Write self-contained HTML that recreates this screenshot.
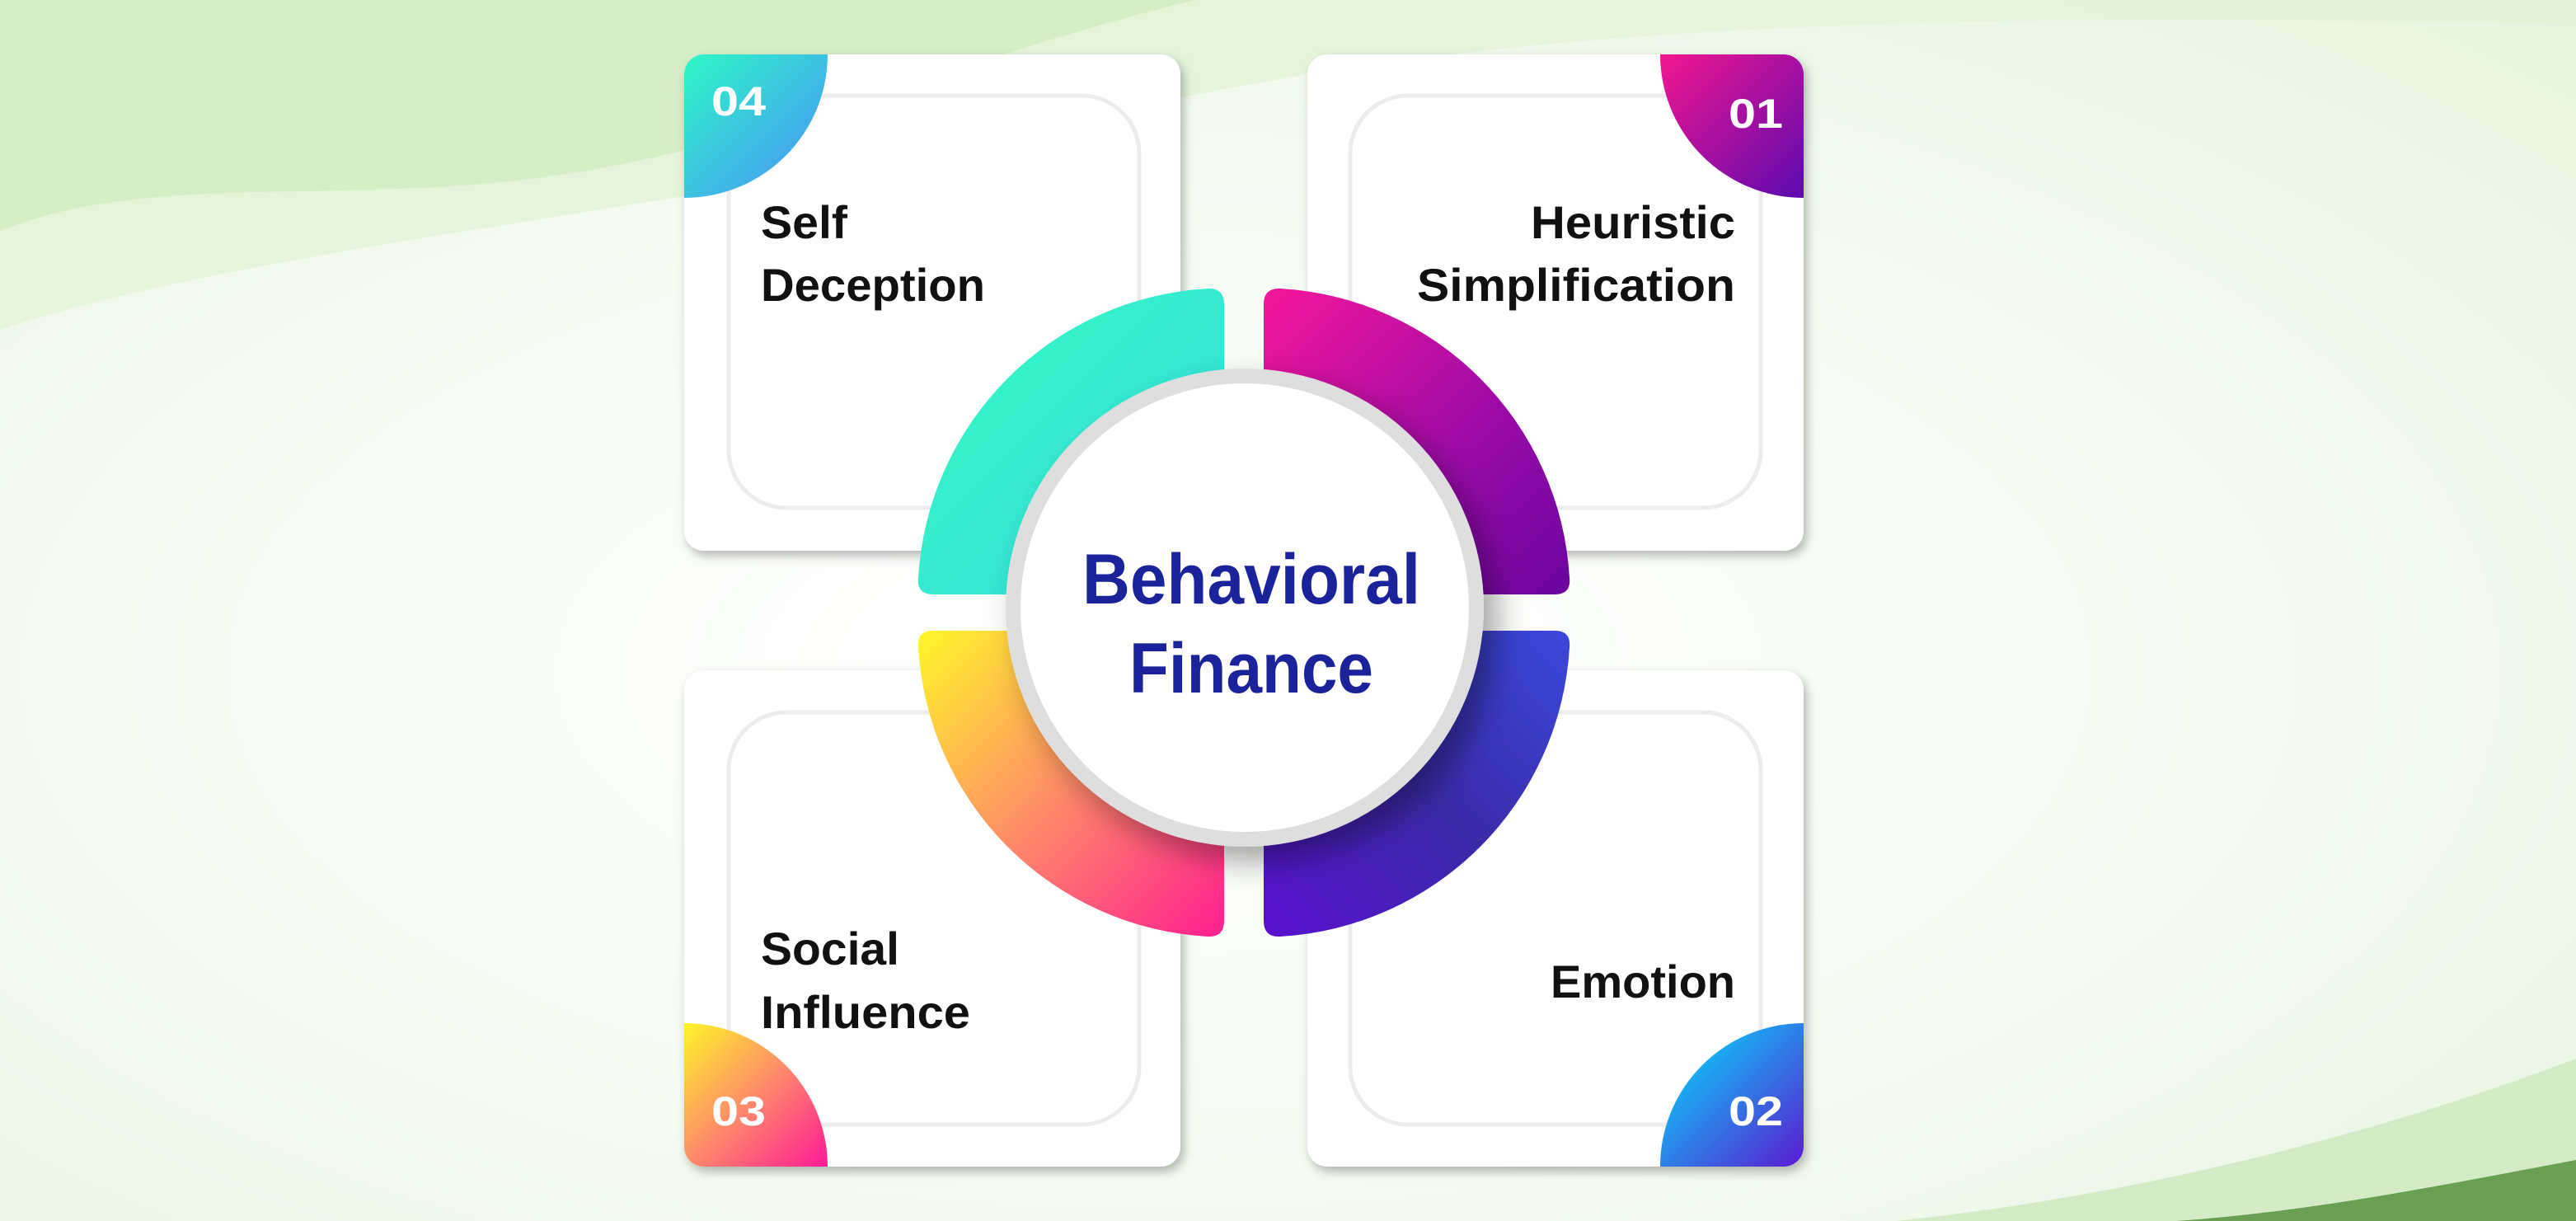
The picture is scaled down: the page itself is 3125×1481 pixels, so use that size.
<!DOCTYPE html>
<html><head><meta charset="utf-8"><style>html,body{margin:0;padding:0}body{width:3125px;height:1481px;overflow:hidden}svg{display:block}</style></head><body>
<svg width="3125" height="1481" viewBox="0 0 3125 1481" xmlns="http://www.w3.org/2000/svg" font-family="'Liberation Sans',sans-serif">
<defs>
<radialGradient id="bg" cx="0.45" cy="0.55" r="0.75"><stop offset="0" stop-color="#ffffff"/><stop offset="0.55" stop-color="#f4fbf1"/><stop offset="1" stop-color="#e6f5df"/></radialGradient>
<linearGradient id="g4" x1="0" y1="0" x2="1" y2="1"><stop offset="0" stop-color="#2ef7c6"/><stop offset="1" stop-color="#4a8dfb"/></linearGradient>
<linearGradient id="g1" x1="0" y1="0" x2="1" y2="1"><stop offset="0" stop-color="#f2168f"/><stop offset="1" stop-color="#5c0ab0"/></linearGradient>
<linearGradient id="g3" x1="0" y1="0" x2="1" y2="1"><stop offset="0" stop-color="#fff52a"/><stop offset="0.5" stop-color="#ff8a6a"/><stop offset="1" stop-color="#ff1a96"/></linearGradient>
<linearGradient id="g2" x1="0" y1="0" x2="1" y2="1"><stop offset="0" stop-color="#00e8ff"/><stop offset="1" stop-color="#5a1ad0"/></linearGradient>
<linearGradient id="s4" x1="0" y1="0" x2="1" y2="1"><stop offset="0" stop-color="#34fcc0"/><stop offset="1" stop-color="#38d8e0"/></linearGradient>
<linearGradient id="s1" x1="0" y1="0" x2="1" y2="1"><stop offset="0" stop-color="#f5169a"/><stop offset="0.6" stop-color="#9a0aa8"/><stop offset="1" stop-color="#6a04a0"/></linearGradient>
<linearGradient id="s3" x1="0" y1="0" x2="1" y2="1"><stop offset="0" stop-color="#fff82a"/><stop offset="0.5" stop-color="#ff8a68"/><stop offset="1" stop-color="#ff1e90"/></linearGradient>
<linearGradient id="s2" x1="1" y1="0" x2="0" y2="1"><stop offset="0" stop-color="#3a48dc"/><stop offset="0.5" stop-color="#3a2aa8"/><stop offset="1" stop-color="#5a10d0"/></linearGradient>
<filter id="sh" x="-10%" y="-10%" width="125%" height="125%"><feDropShadow dx="4" dy="6" stdDeviation="6" flood-color="#000" flood-opacity="0.28"/></filter>
<filter id="sh2" x="-20%" y="-20%" width="150%" height="150%"><feDropShadow dx="16" dy="18" stdDeviation="18" flood-color="#000" flood-opacity="0.35"/></filter>
<clipPath id="c4"><rect x="830" y="66" width="602" height="602" rx="24"/></clipPath>
<clipPath id="c1"><rect x="1586" y="66" width="602" height="602" rx="24"/></clipPath>
<clipPath id="c3"><rect x="830" y="813" width="602" height="602" rx="24"/></clipPath>
<clipPath id="c2"><rect x="1586" y="813" width="602" height="602" rx="24"/></clipPath>
</defs>
<rect width="3125" height="1481" fill="url(#bg)"/>
<path d="M0 0 H3125 V30 C2400 15 1800 20 1300 150 C800 260 300 300 0 400 Z" fill="#e2f4d8" opacity="0.9"/>
<path d="M0 0 H1450 C1200 60 1000 150 750 200 C450 260 200 200 0 280 Z" fill="#d3ecc4" opacity="0.85"/>
<path d="M0 1481 H3125 V1284 C2900 1370 2600 1450 2300 1481 Z" fill="#d4ebc8"/>
<path d="M2640 1481 C2800 1470 2950 1440 3125 1407 V1481 Z" fill="#6a9e52"/>
<g filter="url(#sh)">
<rect x="830" y="66" width="602" height="602" rx="24" fill="#fff"/>
<rect x="1586" y="66" width="602" height="602" rx="24" fill="#fff"/>
<rect x="830" y="813" width="602" height="602" rx="24" fill="#fff"/>
<rect x="1586" y="813" width="602" height="602" rx="24" fill="#fff"/>
</g>
<g fill="none" stroke="#ececec" stroke-width="5">
<rect x="884" y="116" width="498" height="500" rx="70"/>
<rect x="1638" y="116" width="498" height="500" rx="70"/>
<rect x="884" y="864" width="498" height="500" rx="70"/>
<rect x="1638" y="864" width="498" height="500" rx="70"/>
</g>
<path d="M830 66 H1004 A174 174 0 0 1 830 240 Z" fill="url(#g4)" clip-path="url(#c4)"/>
<path d="M2188 66 V240 A174 174 0 0 1 2014 66 Z" fill="url(#g1)" clip-path="url(#c1)"/>
<path d="M830 1415 V1241 A174 174 0 0 1 1004 1415 Z" fill="url(#g3)" clip-path="url(#c3)"/>
<path d="M2188 1415 H2014 A174 174 0 0 1 2188 1241 Z" fill="url(#g2)" clip-path="url(#c2)"/>
<g font-weight="bold" fill="#fff" font-size="50">
<text x="863" y="140" textLength="66" lengthAdjust="spacingAndGlyphs">04</text>
<text x="2097" y="155" textLength="66" lengthAdjust="spacingAndGlyphs">01</text>
<text x="863" y="1365" textLength="66" lengthAdjust="spacingAndGlyphs">03</text>
<text x="2097" y="1365" textLength="66" lengthAdjust="spacingAndGlyphs">02</text>
</g>
<g font-weight="bold" fill="#111" font-size="56">
<text x="923" y="289" textLength="105" lengthAdjust="spacingAndGlyphs">Self</text>
<text x="923" y="365" textLength="272" lengthAdjust="spacingAndGlyphs">Deception</text>
<text x="2105" y="289" text-anchor="end" textLength="248" lengthAdjust="spacingAndGlyphs">Heuristic</text>
<text x="2105" y="365" text-anchor="end" textLength="386" lengthAdjust="spacingAndGlyphs">Simplification</text>
<text x="923" y="1170" textLength="168" lengthAdjust="spacingAndGlyphs">Social</text>
<text x="923" y="1247" textLength="254" lengthAdjust="spacingAndGlyphs">Influence</text>
<text x="2105" y="1210" text-anchor="end" textLength="224" lengthAdjust="spacingAndGlyphs">Emotion</text>
</g>
<path d="M1485 721 H1132 Q1112 721 1114 701 A373 373 0 0 1 1465 350 Q1485 349 1485 369 Z" fill="url(#s4)"/>
<path d="M1533 721 H1886 Q1906 721 1904 701 A373 373 0 0 0 1553 350 Q1533 349 1533 369 Z" fill="url(#s1)"/>
<path d="M1485 765 H1132 Q1112 765 1114 785 A373 373 0 0 0 1465 1136 Q1485 1137 1485 1117 Z" fill="url(#s3)"/>
<path d="M1533 765 H1886 Q1906 765 1904 785 A373 373 0 0 1 1553 1136 Q1533 1137 1533 1117 Z" fill="url(#s2)"/>
<circle cx="1510" cy="737" r="290" fill="#dedede" filter="url(#sh2)"/>
<circle cx="1510" cy="737" r="272" fill="#fff"/>
<g font-weight="bold" fill="#1b239a" font-size="86" text-anchor="middle">
<text x="1518" y="732" textLength="410" lengthAdjust="spacingAndGlyphs">Behavioral</text>
<text x="1518" y="840" textLength="296" lengthAdjust="spacingAndGlyphs">Finance</text>
</g>
</svg>
</body></html>
